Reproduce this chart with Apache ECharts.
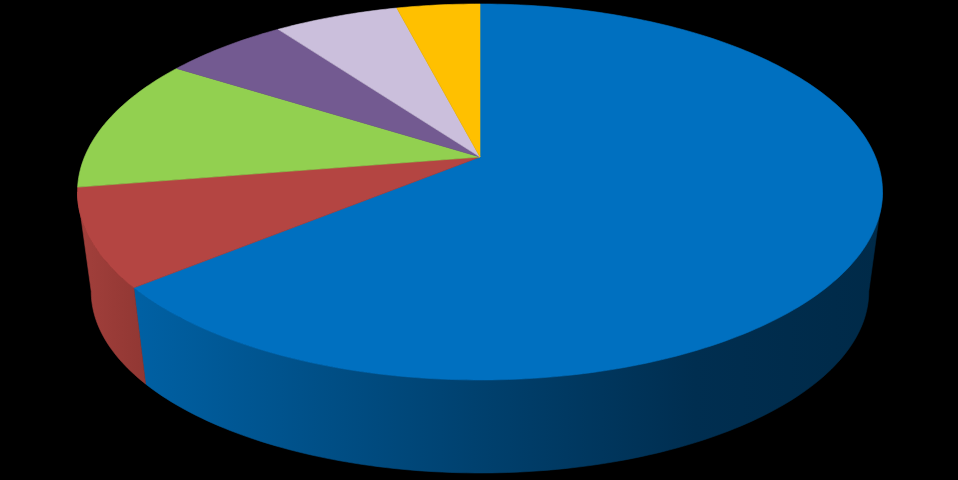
<!DOCTYPE html>
<html lang="en">
    <head>
        <meta charset="UTF-8">
        <script src="https://cdn.jsdelivr.net/npm/echarts@6.0.0/dist/echarts.min.js"></script>
        <title>3D Pie</title>
        <style>
            html, body { margin: 0; padding: 0; background: #000; }
        </style>
    </head>
    <body>
        <div id="chart-container" style="width: 958px; height: 480px;"></div>

        <script>
            // slice data, clockwise from 12 o'clock
            const categories = ['Slice 1', 'Slice 2', 'Slice 3', 'Slice 4', 'Slice 5', 'Slice 6'];
            const values = [64.1, 8.4, 11.6, 6.0, 6.0, 4.0];
            const topColors = ['#0070C0', '#B44542', '#92D050', '#735A91', '#CBBFDC', '#FFC000'];
            const sideColors = ['#005a9c', '#9d3c38', '#77ab40', '#5d4977', '#a79db5', '#d19d00'];

            // perspective of the disc (top face and bottom rim)
            const cx = 480;
            const k = 0.186;
            const topRim = { A: 395.5, B: 181.5, cy: 157 };
            const bottomRim = { A: 382, B: 175.3, cy: 257.6 };

            function proj(deg, f) {
                const t = deg * Math.PI / 180;
                const u = Math.cos(t), v = Math.sin(t);
                const w = 1 + k * v;
                return [cx + f.A * u / w, f.cy - f.B * v / w];
            }

            const total = values.reduce((a, b) => a + b, 0);
            // start / end angle of each slice (going clockwise means decreasing angle)
            const angles = [];
            let acc = 90;
            values.forEach(val => {
                const sweep = 360 * val / total;
                angles.push([acc, acc - sweep]);
                acc -= sweep;
            });

            function arc(a0, a1, f) {
                const pts = [];
                const n = Math.max(2, Math.ceil(Math.abs(a0 - a1)));
                for (let i = 0; i <= n; i++) {
                    pts.push(proj(a0 + (a1 - a0) * i / n, f));
                }
                return pts;
            }

            // the side wall is only seen on the front, between the two silhouette points
            const edge = Math.asin(k) * 180 / Math.PI;
            const frontHi = -edge, frontLo = -180 + edge;

            const chart = echarts.init(document.getElementById('chart-container'));
            chart.setOption({
                backgroundColor: '#000',
                animation: false,
                series: [
                    {
                        type: 'custom',
                        coordinateSystem: 'none',
                        z: 1,
                        data: values,
                        renderItem: function (params) {
                            const [a0, a1] = angles[params.dataIndex];
                            const hi = Math.min(a0, frontHi);
                            const lo = Math.max(a1, frontLo);
                            if (hi <= lo) return null;
                            const upper = arc(hi, lo, topRim);
                            const lower = arc(hi, lo, bottomRim).reverse();
                            let fill = sideColors[params.dataIndex];
                            if (params.dataIndex === 0) {
                                fill = new echarts.graphic.LinearGradient(140, 0, 880, 0, [
                                    { offset: 0, color: '#0060a3' },
                                    { offset: 0.45, color: '#00416f' },
                                    { offset: 0.75, color: '#002e50' },
                                    { offset: 1, color: '#002a48' }
                                ], true);
                            } else if (params.dataIndex === 1) {
                                fill = new echarts.graphic.LinearGradient(75, 0, 145, 0, [
                                    { offset: 0, color: '#a3403c' },
                                    { offset: 1, color: '#913733' }
                                ], true);
                            }
                            return {
                                type: 'polygon',
                                shape: { points: upper.concat(lower) },
                                style: { fill: fill, stroke: fill, lineWidth: 0.6 }
                            };
                        }
                    },
                    {
                        type: 'custom',
                        coordinateSystem: 'none',
                        z: 2,
                        data: values,
                        renderItem: function (params) {
                            const [a0, a1] = angles[params.dataIndex];
                            const pts = [[cx, topRim.cy]].concat(arc(a0, a1, topRim));
                            const c = topColors[params.dataIndex];
                            return {
                                type: 'polygon',
                                shape: { points: pts },
                                style: { fill: c, stroke: c, lineWidth: 0.6 }
                            };
                        }
                    }
                ]
            });
        </script>
    </body>
</html>
